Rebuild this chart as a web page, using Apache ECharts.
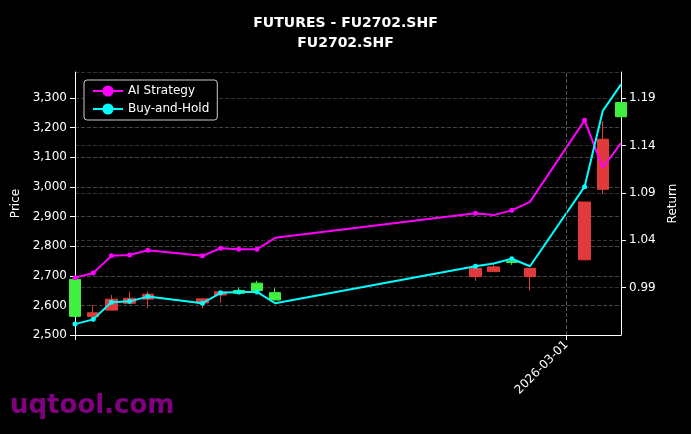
<!DOCTYPE html>
<html><head><meta charset="utf-8">
<script src="https://cdn.jsdelivr.net/npm/echarts@6/dist/echarts.min.js"></script>
<style>html,body{margin:0;background:#000}#c{width:691px;height:434px}</style>
</head><body><div id="c"></div>
<script>
var dates = ['2026-02-02','2026-02-03','2026-02-04','2026-02-05','2026-02-06','2026-02-09','2026-02-10','2026-02-11','2026-02-12','2026-02-13',
             '2026-02-24','2026-02-25','2026-02-26','2026-02-27','2026-03-02','2026-03-03','2026-03-04'];
// [open, close, low, high]
var ohlc = [[2563,2688,2563,2688],[2575,2562,2562,2601],[2621,2584,2584,2635],[2624,2607,2607,2646],[2638,2621,2591,2646],
            [2622,2608,2591,2622],[2646,2635,2609,2646],[2641,2650,2641,2660],[2650,2675,2650,2683],[2618,2643,2618,2658],
            [2725,2697,2683,2725],[2730,2714,2714,2739],[2745,2748,2737,2748],[2725,2697,2650,2725],[2949,2754,2754,2949],
            [3161,2992,2976,3221],[3237,3285,3237,3285]];
var aiRet = [1.000,1.005,1.023,1.024,1.029,1.023,1.031,1.030,1.030,1.042,1.068,1.066,1.071,1.080,1.166,1.116,1.142];
var bhRet = [0.951,0.956,0.974,0.975,0.980,0.973,0.984,0.985,0.985,0.973,1.012,1.015,1.020,1.012,1.096,1.176,1.204];
var noMarker = [9,11,13,15,16];

var DAY = 86400000, T0 = Date.UTC(2026,1,2);
function dayOf(s){ var p=s.split('-'); return Math.round((Date.UTC(+p[0],p[1]-1,+p[2])-T0)/DAY); }
function dayLabel(v){ var d=new Date(T0+v*DAY); return d.getUTCFullYear()+'-'+String(d.getUTCMonth()+1).padStart(2,'0')+'-'+String(d.getUTCDate()).padStart(2,'0'); }
var xs = dates.map(dayOf);
var tickDay = dayOf('2026-03-01');

function pairs(v){ return xs.map(function(x,i){ return {value:[x,v[i]], symbolSize: noMarker.indexOf(i)>=0?0:5}; }); }

var chart = echarts.init(document.getElementById('c'));
var txt = {color:'#fff', fontFamily:'DejaVu Sans', fontSize:12};
chart.setOption({
  backgroundColor:'#000',
  animation:false,
  title:{text:'FUTURES - FU2702.SHF\nFU2702.SHF', left:'center', top:8,
    textStyle:{color:'#fff', fontFamily:'DejaVu Sans', fontWeight:'bold', fontSize:14, lineHeight:20}},
  legend:{left:84, top:80, orient:'vertical', backgroundColor:'#000', borderColor:'#ccc', borderWidth:1, borderRadius:3,
    padding:[5,8], itemGap:6, itemWidth:30, textStyle:txt, data:['AI Strategy','Buy-and-Hold']},
  grid:{left:75, right:70, top:72, bottom:99},
  xAxis:{type:'value', min:0, max:dayOf('2026-03-04'), interval:tickDay,
    axisLine:{lineStyle:{color:'#fff'}},
    axisTick:{lineStyle:{color:'#fff'}},
    axisLabel:{rotate:45, color:'#fff', fontFamily:'DejaVu Sans', fontSize:12, showMaxLabel:false,
      formatter:function(v){ return v===tickDay ? dayLabel(v) : ''; }},
    splitLine:{show:false}},
  yAxis:[
    {type:'value', name:'Price', nameLocation:'middle', nameGap:45, nameTextStyle:txt, min:2500, max:3388, interval:100,
     axisLine:{show:true, lineStyle:{color:'#fff'}}, axisTick:{show:true}, axisLabel:{color:'#fff', fontFamily:'DejaVu Sans', showMaxLabel:false},
     splitLine:{lineStyle:{color:'#444', type:'dashed'}}},
    {type:'value', name:'Return', nameLocation:'middle', nameGap:45, nameTextStyle:txt, min:0.9395, max:1.217, interval:0.05,
     axisLine:{show:true, lineStyle:{color:'#fff'}}, axisTick:{show:true}, axisLabel:{color:'#fff', fontFamily:'DejaVu Sans', showMinLabel:false, showMaxLabel:false, formatter:function(v){return v.toFixed(2);}},
     splitLine:{lineStyle:{color:'#333', type:'dashed'}}}
  ],
  series:[
    {type:'candlestick', name:'Price', yAxisIndex:0, barWidth:12, clip:true,
     data: xs.map(function(x,i){ return [x].concat(ohlc[i]); }),
     encode:{x:0, y:[1,2,3,4]},
     itemStyle:{color:'#3ff03f', color0:'#e03a3a', borderColor:'#3ff03f', borderColor0:'#e03a3a', borderWidth:1},
     markLine:{silent:true, symbol:'none', label:{show:false}, lineStyle:{color:'#555', type:'dashed', width:1}, data:[{xAxis:tickDay}]}},
    {type:'line', name:'AI Strategy', yAxisIndex:1, data:pairs(aiRet), symbol:'circle', showAllSymbol:true,
     lineStyle:{color:'#ff00ff', width:2}, itemStyle:{color:'#ff00ff'}},
    {type:'line', name:'Buy-and-Hold', yAxisIndex:1, data:pairs(bhRet), symbol:'circle', showAllSymbol:true,
     lineStyle:{color:'#00ffff', width:2}, itemStyle:{color:'#00ffff'}}
  ],
  graphic:[{type:'text', left:10, top:393, style:{text:'uqtool.com', fill:'#800080', font:'bold 26px DejaVu Sans'}}]
});
</script></body></html>
